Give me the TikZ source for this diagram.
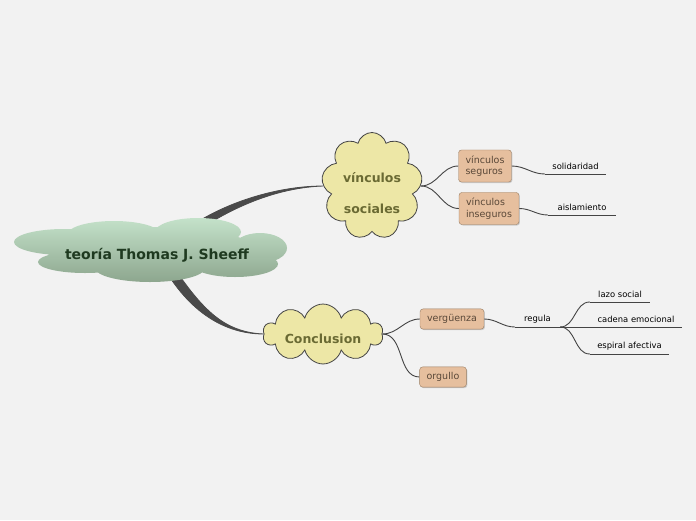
\documentclass[tikz,border=0pt]{standalone}
\usepackage{fontspec}
\setmainfont{DejaVu Sans}
\usepackage{xcolor}
\usetikzlibrary{shapes.symbols}
\usetikzlibrary{shadows}
\definecolor{paper}{HTML}{F2F2F2}
\definecolor{topgreen}{HTML}{C4E2CA}
\definecolor{botgreen}{HTML}{8DA68E}
\definecolor{textgreen}{HTML}{1F3A20}
\definecolor{cloudyellow}{HTML}{EDE7A6}
\definecolor{cloudtext}{HTML}{6A6A33}
\definecolor{boxfill}{HTML}{E6BF9E}
\definecolor{boxline}{HTML}{9A7E63}
\definecolor{boxtext}{HTML}{5A4838}
\definecolor{linegray}{HTML}{444444}
\definecolor{trunkgray}{HTML}{4A4A4A}
\pgfdeclarelayer{bg}
\pgfdeclarelayer{edges}
\pgfsetlayers{bg,edges,main}
\tikzset{
	main topic/.style={inner sep=0pt,text=textgreen,font=\bfseries\fontsize{14}{16}\selectfont},
	sub cloud/.style={cloud,draw=linegray,line width=0.8pt,fill=cloudyellow,text=cloudtext,inner sep=0pt,
		align=center,font=\bfseries\fontsize{12.5}{14}\selectfont},
	topic/.style={rectangle,rounded corners=3pt,draw=boxline,fill=boxfill,text=boxtext,align=left,
		inner xsep=7pt,inner ysep=5.5pt,font=\fontsize{9.5}{11.5}\selectfont,
		drop shadow={opacity=0.35,shadow xshift=1pt,shadow yshift=-1pt}},
	leaf/.style={anchor=south,inner xsep=0pt,inner ysep=4pt,font=\fontsize{8.4}{9}\selectfont},
	branch/.style={draw=linegray,line width=0.9pt},
	trunk/.style={fill=trunkgray,draw=trunkgray,line width=0.8pt}
}
\newcommand{\cloudtxt}[2]{\raisebox{#1}[0pt][0pt]{\begin{tabular}{@{}c@{}}#2\end{tabular}}}

\begin{document}
\begin{tikzpicture}[x=1pt,y=-1pt]
		\begin{pgfonlayer}{bg}
			\fill[paper] (0,0) rectangle (696,520);
		\end{pgfonlayer}
		\useasboundingbox (0,0) rectangle (696,520);

		% central cloud, made of lobes
		\shade[top color=topgreen,bottom color=botgreen]
			(64,242) ellipse [x radius=50,y radius=13]
			(114,234) ellipse [x radius=46,y radius=13]
			(198,232) ellipse [x radius=43,y radius=14]
			(260,248) ellipse [x radius=27,y radius=15]
			(235,264) ellipse [x radius=43,y radius=13]
			(150,268) ellipse [x radius=55,y radius=14]
			(85,262) ellipse [x radius=47,y radius=11]
			(150,249) ellipse [x radius=105,y radius=22];
		\node[main topic] (teoria) at (157,255) {teoría Thomas J. Sheeff};

		\node[sub cloud,cloud puffs=9,aspect=1,minimum width=101pt,minimum height=107pt] (vinc) at (372,186)
			{\cloudtxt{-12pt}{vínculos\\[17pt]sociales}};
		\node[sub cloud,cloud puffs=10,aspect=3,minimum width=120pt,minimum height=40pt] (concl) at (323,334)
			{\cloudtxt{-10pt}{Conclusion}};

		\node[topic] (seguros)   at (485,166)   {vínculos\\seguros};
		\node[topic] (inseguros) at (489,208.5) {vínculos\\inseguros};
		\node[topic] (verg)      at (452,319)   {vergüenza};
		\node[topic] (orgullo)   at (443,377)   {orgullo};

		\node[leaf,minimum width=61pt] (soli)    at (575.5,174) {solidaridad};
		\node[leaf,minimum width=68pt] (aisl)    at (582,215)   {aislamiento};
		\node[leaf,minimum width=45pt] (regula)  at (537.5,327) {regula};
		\node[leaf,minimum width=60pt] (lazo)    at (620,302)   {lazo social};
		\node[leaf,minimum width=92pt] (cadena)  at (636,327)   {cadena emocional};
		\node[leaf,minimum width=79pt] (espiral) at (629.5,354) {espiral afectiva};

		\begin{pgfonlayer}{edges}
			% main branches
			\filldraw[trunk] (teoria.center) .. controls +(40,-45) and +(-55,0) .. (vinc.west)
				.. controls +(-55,2) and +(48,-40) .. ([xshift=8pt]teoria.center) -- cycle;
			\filldraw[trunk] (teoria.center) .. controls +(25,50) and +(-45,0) .. (concl.west)
				.. controls +(-45,-2) and +(33,48) .. ([xshift=8pt]teoria.center) -- cycle;

			\path[branch]
				(vinc.east) edge[out=0,in=180] (seguros.west)
				(vinc.east) edge[out=0,in=180] (inseguros.west)
				(concl.east) edge[out=0,in=180] (verg.west)
				(concl.east) edge[out=0,in=180] (orgullo.west)
				(seguros.east) edge[out=0,in=180] (soli.south west)
				(inseguros.east) edge[out=0,in=180] (aisl.south west)
				(verg.east) edge[out=0,in=180] (regula.south west)
				(regula.south east) edge[out=0,in=180] (lazo.south west)
				(regula.south east) edge (cadena.south west)
				(regula.south east) edge[out=0,in=180] (espiral.south west);
		\end{pgfonlayer}

		% underlines of the leaves
		\foreach \n in {soli,aisl,regula,lazo,cadena,espiral}
			\draw[branch] (\n.south west) -- (\n.south east);
\end{tikzpicture}
\end{document}
